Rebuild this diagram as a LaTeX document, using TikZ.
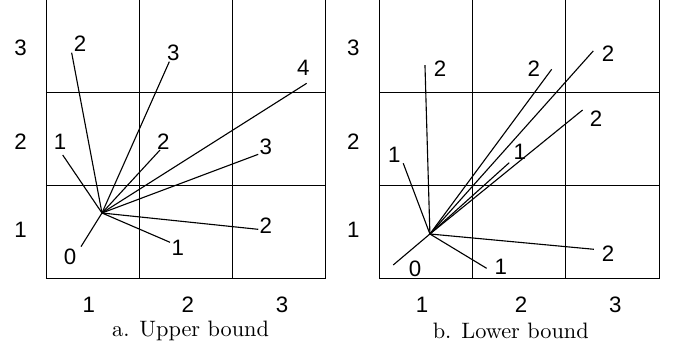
\documentclass[tikz,border=0pt]{standalone}
\usepackage{fontspec}
\setsansfont{Liberation Sans}
\tikzset{
  cost/.style={font=\sffamily\fontsize{10}{12}\selectfont, inner sep=0pt},
  axislab/.style={font=\sffamily\fontsize{10}{12}\selectfont, inner sep=0pt},
  caption/.style={font=\fontsize{10}{12}\selectfont, inner sep=0pt},
  ray/.style={line width=0.5pt},
}

\begin{document}
\begin{tikzpicture}[x=1.47cm, y=1.47cm]
    \useasboundingbox (-0.493,-0.732) rectangle (6.742,2.987);
    % Upper bound: grid without top edge
    \begin{scope}
        \foreach \k in {0,...,3} \draw (\k,0) -- (\k,3);
        \foreach \k in {0,1,2} \draw (0,\k) -- (3,\k);
        \coordinate (up-hub) at (0.600,0.704);
        % rays with their costs
        \foreach \n/\ex/\ey/\lx/\ly/\c in {1/0.275/2.422/0.364/2.523/2, 2/1.322/2.326/1.364/2.416/3,
            3/2.794/2.094/2.758/2.255/4, 4/0.179/1.326/0.150/1.468/1, 5/1.222/1.379/1.257/1.468/2,
            6/2.275/1.333/2.355/1.415/3, 7/2.275/0.529/2.355/0.565/2, 8/1.329/0.390/1.412/0.326/1,
            9/0.375/0.343/0.257/0.229/0}{
            \coordinate (up-end\n) at (\ex,\ey);
            \node[cost] (up-cost\n) at (\lx,\ly) {\c};
            \draw[ray] (up-hub) -- (up-end\n);
        }
        % axis numbers
        \foreach \k/\cx/\ry in {1/0.46/0.52, 2/1.52/1.47, 3/2.53/2.47}{
            \node[axislab] (up-col\k) at (\cx,-0.282) {\k};
            \node[axislab] (up-row\k) at (-0.272,\ry) {\k};
        }
        \node[caption] (up-caption) at (1.55,-0.56) {a. Upper bound};
    \end{scope}
    % Lower bound
    \begin{scope}[shift={(3.572,0)}]
        \foreach \k in {0,...,3} \draw (\k,0) -- (\k,3);
        \foreach \k in {0,1,2} \draw (0,\k) -- (3,\k);
        \coordinate (lo-hub) at (0.543,0.479);
        % rays with their costs
        \foreach \n/\ex/\ey/\lx/\ly/\c in {1/0.490/2.290/0.651/2.255/2, 2/1.848/2.244/1.658/2.255/2,
            3/2.294/2.441/2.454/2.416/2, 4/2.180/1.808/2.323/1.719/2, 5/1.393/1.243/1.508/1.361/1,
            6/0.257/1.237/0.161/1.326/1, 7/2.301/0.315/2.454/0.272/2, 8/1.151/0.111/1.304/0.129/1,
            9/0.150/0.147/0.383/0.111/0}{
            \coordinate (lo-end\n) at (\ex,\ey);
            \node[cost] (lo-cost\n) at (\lx,\ly) {\c};
            \draw[ray] (lo-hub) -- (lo-end\n);
        }
        % axis numbers
        \foreach \k/\cx/\ry in {1/0.46/0.52, 2/1.52/1.47, 3/2.53/2.47}{
            \node[axislab] (lo-col\k) at (\cx,-0.282) {\k};
            \node[axislab] (lo-row\k) at (-0.279,\ry) {\k};
        }
        \node[caption] (lo-caption) at (1.41,-0.56) {b. Lower bound};
    \end{scope}
\end{tikzpicture}
\end{document}
